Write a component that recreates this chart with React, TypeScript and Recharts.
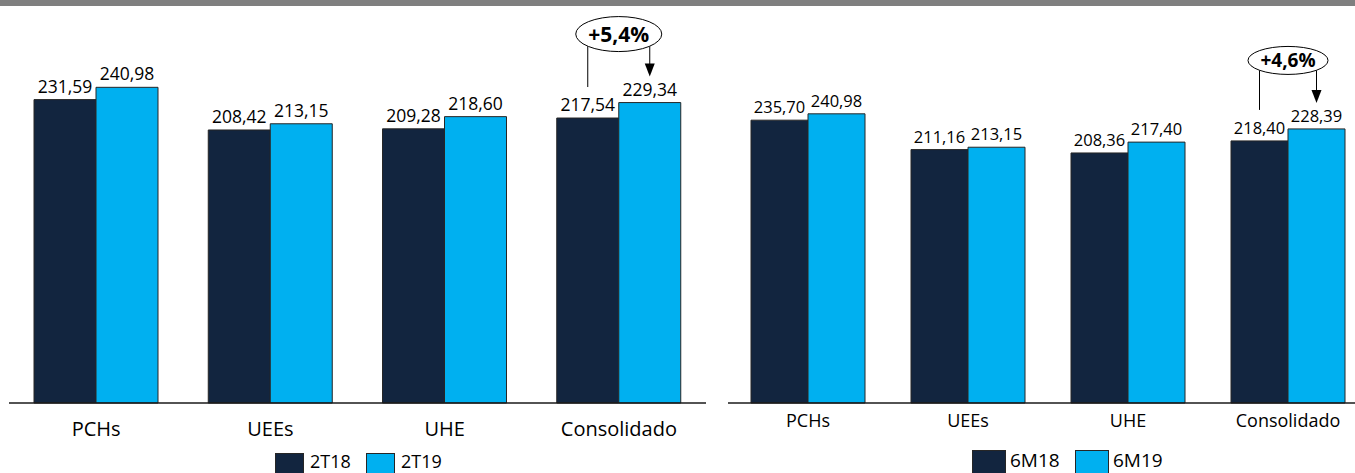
import React from 'react';
import { BarChart, Bar, XAxis, YAxis, LabelList } from 'recharts';

const categories = ['PCHs', 'UEEs', 'UHE', 'Consolidado'];
const quarterSeries = ['2T18', '2T19'];
const q2T18 = [231.59, 208.42, 209.28, 217.54];
const q2T19 = [240.98, 213.15, 218.6, 229.34];
const semesterSeries = ['6M18', '6M19'];
const s6M18 = [235.7, 211.16, 208.36, 218.4];
const s6M19 = [240.98, 213.15, 217.4, 228.39];
const quarterGrowth = '+5,4%';
const semesterGrowth = '+4,6%';
const yDomain = [0, 300];

const DARK = '#12253F';
const LIGHT = '#00B0F0';
const EDGE = '#262626';
const FONT = "'Open Sans', 'Noto Sans', sans-serif";

const fmt = (v: number) => v.toFixed(2).replace('.', ',');

const quarterData = categories.map((c, i) => ({ name: c, prev: q2T18[i], curr: q2T19[i] }));
const semesterData = categories.map((c, i) => ({ name: c, prev: s6M18[i], curr: s6M19[i] }));

type Annot = { text: string; darkValues: number[]; rx: number; ry: number; fontSize: number; index: number };

function makeLabel(fontSize: number, annot?: Annot) {
  return (props: any) => {
    const vb = props.viewBox || {};
    const x = vb.x ?? props.x;
    const y = vb.y ?? props.y;
    const width = vb.width ?? props.width;
    const height = vb.height ?? props.height;
    const value = Number(props.value);
    const index = props.index;
    const cx = x + width / 2;
    const parts: any[] = [
      <text key="v" x={cx} y={y - 7} textAnchor="middle" fontSize={fontSize} fontFamily={FONT} fill="#000">
        {fmt(value)}
      </text>,
    ];
    if (annot && index === annot.index) {
      const bx = x;
      const lightCx = x + width / 2;
      const darkCx = x - width / 2;
      const darkTop = y + height - annot.darkValues[index] * (height / value);
      const ecy = y - 68.5;
      const edgeY = (px: number) => {
        const d = (px - bx) / annot.rx;
        return ecy + annot.ry * Math.sqrt(Math.max(0, 1 - d * d));
      };
      const tipY = y - 26;
      parts.push(
        <g key="a">
          <line x1={darkCx} x2={darkCx} y1={edgeY(darkCx)} y2={darkTop - 31} stroke="#000" strokeWidth={1} />
          <line x1={lightCx} x2={lightCx} y1={edgeY(lightCx)} y2={tipY - 10} stroke="#000" strokeWidth={1} />
          <polygon points={`${lightCx},${tipY} ${lightCx - 5},${tipY - 13} ${lightCx + 5},${tipY - 13}`} fill="#000" />
          <ellipse cx={bx} cy={ecy} rx={annot.rx} ry={annot.ry} fill="#fff" stroke="#000" strokeWidth={1} />
          <text x={bx} y={ecy + annot.fontSize * 0.36} textAnchor="middle" fontSize={annot.fontSize} fontWeight="bold" fontFamily={FONT} fill="#000">
            {annot.text}
          </text>
        </g>
      );
    }
    return <g>{parts}</g>;
  };
}

function Legend2({ names, x, y, w, h, gap, textGap, fontSize, baseline }: any) {
  return (
    <g>
      {names.map((n: string, i: number) => {
        const sx = x + i * gap;
        return (
          <g key={n}>
            <rect x={sx + 0.5} y={y + 0.5} width={w} height={h} fill={i === 0 ? DARK : LIGHT} stroke={EDGE} strokeWidth={1} />
            <text x={sx + w + textGap} y={baseline} fontSize={fontSize} fontFamily={FONT} fill="#000">
              {n}
            </text>
          </g>
        );
      })}
    </g>
  );
}

export default function App() {
  return (
    <div style={{ position: 'absolute', left: 0, top: 0, width: 1355, height: 473, overflow: 'hidden', background: '#fff' }}>
      <div style={{ position: 'absolute', left: 0, top: 0, width: 1355, height: 6, background: '#7F7F7F' }} />
      <div style={{ position: 'absolute', left: 0, top: 0 }}>
        <BarChart width={720} height={473} data={quarterData} margin={{ top: 10, right: 14, bottom: 40, left: 9 }} barGap={0}>
          <YAxis hide domain={yDomain} />
          <XAxis
            dataKey="name"
            height={30}
            tickLine={false}
            axisLine={{ stroke: '#1a1a1a', strokeWidth: 1.5 }}
            tick={{ fill: '#000', fontSize: 20, fontFamily: FONT }}
            tickMargin={13}
            interval={0}
          />
          <Bar dataKey="prev" name={quarterSeries[0]} fill={DARK} stroke={EDGE} strokeWidth={1} barSize={62} isAnimationActive={false}>
            <LabelList dataKey="prev" content={makeLabel(17.5)} />
          </Bar>
          <Bar dataKey="curr" name={quarterSeries[1]} fill={LIGHT} stroke={EDGE} strokeWidth={1} barSize={62} isAnimationActive={false}>
            <LabelList
              dataKey="curr"
              content={makeLabel(17.5, { text: quarterGrowth, darkValues: q2T18, rx: 43, ry: 17.5, fontSize: 21, index: 3 })}
            />
          </Bar>
        </BarChart>
      </div>
      <div style={{ position: 'absolute', left: 720, top: 0 }}>
        <BarChart width={660} height={473} data={semesterData} margin={{ top: 43, right: 12, bottom: 40, left: 8 }} barGap={0}>
          <YAxis hide domain={yDomain} />
          <XAxis
            dataKey="name"
            height={30}
            tickLine={false}
            axisLine={{ stroke: '#1a1a1a', strokeWidth: 1.5 }}
            tick={{ fill: '#000', fontSize: 18, fontFamily: FONT }}
            tickMargin={5}
            interval={0}
          />
          <Bar dataKey="prev" name={semesterSeries[0]} fill={DARK} stroke={EDGE} strokeWidth={1} barSize={57} isAnimationActive={false}>
            <LabelList dataKey="prev" content={makeLabel(16.5)} />
          </Bar>
          <Bar dataKey="curr" name={semesterSeries[1]} fill={LIGHT} stroke={EDGE} strokeWidth={1} barSize={57} isAnimationActive={false}>
            <LabelList
              dataKey="curr"
              content={makeLabel(16.5, { text: semesterGrowth, darkValues: s6M18, rx: 40, ry: 14, fontSize: 19, index: 3 })}
            />
          </Bar>
        </BarChart>
      </div>
      <svg style={{ position: 'absolute', left: 0, top: 0 }} width={1355} height={473}>
        <Legend2 names={quarterSeries} x={275} y={453} w={28} h={26} gap={91} textGap={7} fontSize={18} baseline={468} />
        <Legend2 names={semesterSeries} x={972} y={450} w={33} h={28} gap={103} textGap={5} fontSize={19} baseline={467} />
      </svg>
    </div>
  );
}
